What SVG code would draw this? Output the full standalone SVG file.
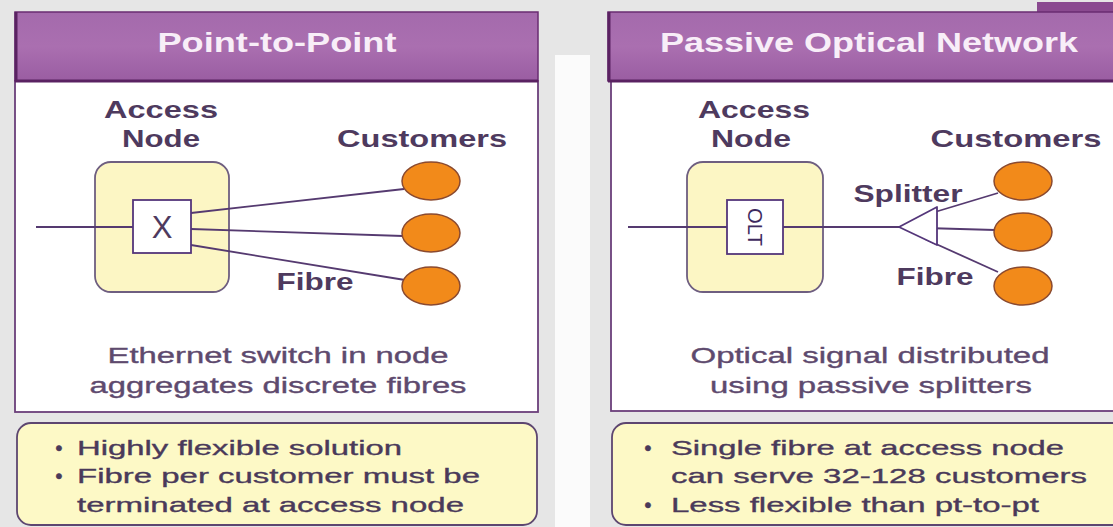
<svg xmlns="http://www.w3.org/2000/svg" width="1113" height="527" viewBox="0 0 1113 527">
<defs>
<linearGradient id="hdr" x1="0" y1="0" x2="0" y2="1">
<stop offset="0" stop-color="#a46aac"/>
<stop offset="0.5" stop-color="#aa6fb0"/>
<stop offset="1" stop-color="#9a5da2"/>
</linearGradient>
<style>
.hdr{fill:url(#hdr);stroke:#6a2d72;stroke-width:1.5}
.hdrline{stroke:#5a2262;stroke-width:3}
.body{fill:#ffffff;stroke:#6b3f7a;stroke-width:1.8}
.bul{fill:#fdf9c6;stroke:#5d4670;stroke-width:1.8}
.node{fill:#fcf6c4;stroke:#6e5e80;stroke-width:1.8}
.box{fill:#ffffff;stroke:#54367a;stroke-width:1.8}
.cust{fill:#f28a1a;stroke:#8a4a30;stroke-width:1.5}
.ln{stroke:#553a70;stroke-width:1.8;fill:none}
.t{font-family:"Liberation Sans",Arial,sans-serif}
.title{font-size:27px;font-weight:bold;fill:#f8eef8}
.lbl{font-size:24px;font-weight:bold;fill:#4e3a5e}
.sm{font-size:23px;font-weight:bold;fill:#4e3a5e}
.desc{font-size:22px;fill:#5e4a6e;stroke:#5e4a6e;stroke-width:0.35}
.bt{font-size:21px;fill:#4a3a5a;stroke:#4a3a5a;stroke-width:0.35}
</style>
</defs>
<rect x="0" y="0" width="1113" height="527" fill="#e6e6e6"/>
<rect x="555" y="55" width="35" height="472" fill="#fbfbfb"/>
<rect x="1037" y="2" width="76" height="12" fill="#8a4a90"/>

<g id="left-panel">
<rect class="body" x="15" y="81" width="523" height="331"/>
<rect class="hdr" x="15" y="12" width="523" height="69"/>
<line class="hdrline" x1="15" y1="81" x2="538" y2="81"/>
<line class="hdrline" x1="16" y1="12" x2="16" y2="81"/>
<text class="t title" x="277" y="52" text-anchor="middle" textLength="239" lengthAdjust="spacingAndGlyphs">Point-to-Point</text>
<text class="t lbl" x="161" y="118" text-anchor="middle" textLength="114" lengthAdjust="spacingAndGlyphs">Access</text>
<text class="t lbl" x="161" y="147" text-anchor="middle" textLength="78" lengthAdjust="spacingAndGlyphs">Node</text>
<text class="t lbl" x="422" y="147" text-anchor="middle" textLength="170" lengthAdjust="spacingAndGlyphs">Customers</text>
<text class="t sm" x="315" y="290" text-anchor="middle" textLength="77" lengthAdjust="spacingAndGlyphs">Fibre</text>
<text class="t desc" x="278" y="363" text-anchor="middle" textLength="341" lengthAdjust="spacingAndGlyphs">Ethernet switch in node</text>
<text class="t desc" x="278" y="393" text-anchor="middle" textLength="377" lengthAdjust="spacingAndGlyphs">aggregates discrete fibres</text>
</g>

<g id="left-access-node">
<rect class="node" x="95" y="162" width="134" height="130" rx="16"/>
</g>

<g id="right-panel">
<rect class="body" x="611" y="81" width="520" height="330"/>
<rect class="hdr" x="608" y="12" width="520" height="69"/>
<line class="hdrline" x1="608" y1="81" x2="1113" y2="81"/>
<line class="hdrline" x1="609" y1="12" x2="609" y2="81"/>
<text class="t title" x="869" y="52" text-anchor="middle" textLength="418" lengthAdjust="spacingAndGlyphs">Passive Optical Network</text>
<text class="t lbl" x="754" y="118" text-anchor="middle" textLength="112" lengthAdjust="spacingAndGlyphs">Access</text>
<text class="t lbl" x="751" y="147" text-anchor="middle" textLength="80" lengthAdjust="spacingAndGlyphs">Node</text>
<text class="t lbl" x="1016" y="147" text-anchor="middle" textLength="171" lengthAdjust="spacingAndGlyphs">Customers</text>
<text class="t sm" x="908" y="202" text-anchor="middle" textLength="109" lengthAdjust="spacingAndGlyphs">Splitter</text>
<text class="t sm" x="935" y="285" text-anchor="middle" textLength="77" lengthAdjust="spacingAndGlyphs">Fibre</text>
<text class="t desc" x="870" y="363" text-anchor="middle" textLength="359" lengthAdjust="spacingAndGlyphs">Optical signal distributed</text>
<text class="t desc" x="871" y="393" text-anchor="middle" textLength="322" lengthAdjust="spacingAndGlyphs">using passive splitters</text>
</g>

<g id="right-access-node">
<rect class="node" x="687" y="162" width="136" height="130" rx="16"/>
</g>

<g id="connectors">
<line class="ln" x1="36" y1="227" x2="133" y2="227"/>
<line class="ln" x1="191" y1="213" x2="404" y2="189"/>
<line class="ln" x1="191" y1="229" x2="403" y2="236"/>
<line class="ln" x1="191" y1="245" x2="405" y2="280"/>
<line class="ln" x1="628" y1="227" x2="727" y2="227"/>
<line class="ln" x1="783" y1="227" x2="899" y2="227"/>
<line class="ln" x1="925" y1="215" x2="998" y2="193"/>
<line class="ln" x1="925" y1="228" x2="995" y2="230"/>
<line class="ln" x1="925" y1="239" x2="998" y2="272"/>
</g>

<g id="switch-x">
<rect class="box" x="133" y="200" width="58" height="53"/>
<text class="t" x="162" y="238" text-anchor="middle" font-size="31" fill="#4e3a5e">X</text>
</g>

<g id="olt">
<rect class="box" x="727" y="200" width="56" height="54"/>
<text class="t" x="755" y="227" text-anchor="middle" font-size="20" fill="#3e2a5e" transform="rotate(90 755 227)" dy="7" textLength="38" lengthAdjust="spacingAndGlyphs">OLT</text>
</g>

<g id="splitter">
<polygon points="899,227 937,207 937,245" fill="#ffffff" stroke="#54367a" stroke-width="1.8" stroke-linejoin="round"/>
</g>

<g id="left-customers">
<ellipse class="cust" cx="431" cy="181" rx="29" ry="19"/>
<ellipse class="cust" cx="431" cy="233" rx="29" ry="19"/>
<ellipse class="cust" cx="431" cy="286" rx="29" ry="19"/>
</g>

<g id="right-customers">
<ellipse class="cust" cx="1023" cy="181" rx="29" ry="19"/>
<ellipse class="cust" cx="1023" cy="232" rx="29" ry="19"/>
<ellipse class="cust" cx="1023" cy="286" rx="29" ry="19"/>
</g>

<g id="left-bullets">
<rect class="bul" x="17" y="423" width="520" height="102" rx="14"/>
<text class="t bt" x="59" y="455" text-anchor="middle">•</text>
<text class="t bt" x="77" y="455" textLength="325" lengthAdjust="spacingAndGlyphs">Highly flexible solution</text>
<text class="t bt" x="59" y="483" text-anchor="middle">•</text>
<text class="t bt" x="77" y="483" textLength="403" lengthAdjust="spacingAndGlyphs">Fibre per customer must be</text>
<text class="t bt" x="77" y="512" textLength="387" lengthAdjust="spacingAndGlyphs">terminated at access node</text>
</g>

<g id="right-bullets">
<rect class="bul" x="612" y="423" width="520" height="102" rx="14"/>
<text class="t bt" x="648" y="455" text-anchor="middle">•</text>
<text class="t bt" x="671" y="455" textLength="393" lengthAdjust="spacingAndGlyphs">Single fibre at access node</text>
<text class="t bt" x="671" y="483" textLength="416" lengthAdjust="spacingAndGlyphs">can serve 32-128 customers</text>
<text class="t bt" x="648" y="512" text-anchor="middle">•</text>
<text class="t bt" x="671" y="512" textLength="368" lengthAdjust="spacingAndGlyphs">Less flexible than pt-to-pt</text>
</g>
</svg>
